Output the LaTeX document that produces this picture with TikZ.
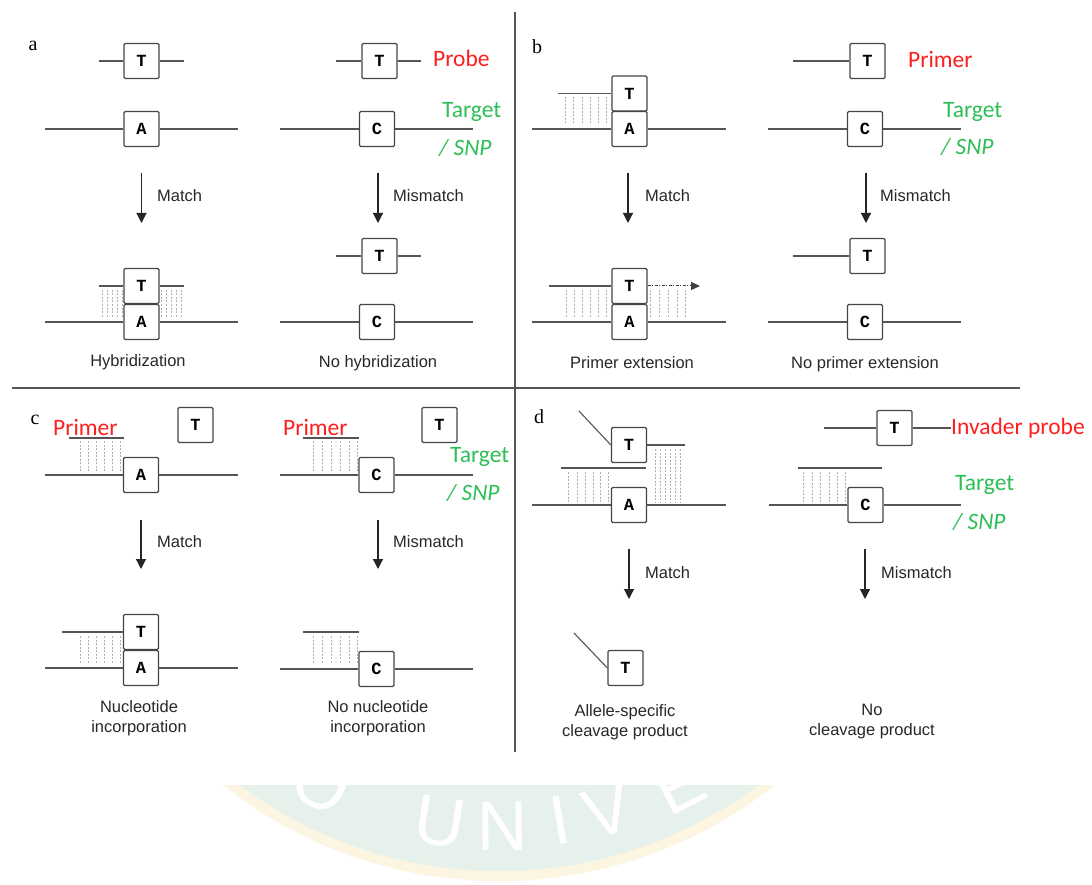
\documentclass[tikz,border=0pt]{standalone}
\usepackage{fontspec}
\usetikzlibrary{arrows.meta}
\newfontfamily\arialf{Liberation Sans}
\newfontfamily\calf{Carlito}
\newfontfamily\monof{Liberation Mono}
\newfontfamily\serf{Liberation Serif}
\definecolor{linec}{RGB}{85,85,85}
\definecolor{boxc}{RGB}{70,70,70}
\definecolor{hatchc}{RGB}{175,175,175}
\definecolor{lblred}{RGB}{255,30,30}
\definecolor{lblgreen}{RGB}{45,190,85}
\definecolor{wmgreen}{RGB}{230,241,235}
\definecolor{wmyellow}{RGB}{251,245,226}
\definecolor{txtc}{RGB}{40,40,40}
\tikzset{
  base/.style={draw=boxc, line width=1.3pt, rounded corners=1.2pt, minimum width=35pt, minimum height=35pt, inner sep=0pt, fill=white, font=\monof\bfseries\fontsize{17}{17}\selectfont, text=black},
  strand/.style={draw=linec, line width=1.5pt},
  hatch/.style={draw=hatchc, line width=0.8pt, dash pattern=on 2pt off 1.5pt},
  flow/.style={draw=black!85, line width=1.2pt, -{Triangle[width=10pt,length=10pt]}},
  dotflow/.style={draw=black!75, line width=1pt, dash pattern=on 3pt off 1.5pt on 1pt off 1.5pt, -{Triangle[width=8pt,length=9pt]}},
  lab/.style={font=\arialf\fontsize{16.5}{20}\selectfont, text=txtc, inner sep=0pt, align=center},
  redlab/.style={font=\calf\fontsize{23.5}{24}\selectfont, text=lblred, inner sep=0pt, anchor=west},
  greenlab/.style={font=\calf\fontsize{23.5}{24}\selectfont, text=lblgreen, inner sep=0pt, anchor=west},
  panel/.style={font=\serf\fontsize{20}{20}\selectfont, inner sep=0pt},
  divider/.style={draw=linec, line width=1.6pt},
  wmlet/.style={font=\arialf\fontsize{70}{70}\selectfont, text=white, inner sep=0pt},
}
\begin{document}
\begin{tikzpicture}[x=1pt,y=-1pt]
\useasboundingbox (0,0) rectangle (1092,885);
\fill[white] (0,0) rectangle (1092,885);
% ---------- watermark ----------
\begin{scope}
\clip (0,785) rectangle (1092,885);
\fill[wmyellow] (499,437) circle[radius=444pt];
\fill[wmgreen] (499,437) circle[radius=434pt];
\foreach \ch/\px/\py/\r in {O/322/784/-27, U/440/822/-8.7, N/503/826/0.6, I/560/820/9.8, V/608/811/15.5, E/679/785/27}
  \node[wmlet, rotate=\r, name=wm\ch] at (\px,\py) {\ch};
\end{scope}
% ---------- dividers ----------
\coordinate (hdL) at (12,388); \coordinate (hdR) at (1020,388);
\draw[divider] (hdL) -- (hdR);
\coordinate (vdT) at (515,12); \coordinate (vdB) at (515,752);
\draw[divider] (vdT) -- (vdB);

% ================= panel a =================
\node[panel] (pa) at (33,46) {a};
% left column
\foreach \x in {102,107,112,117,122,161,166,171,176,181} \draw[hatch] (\x,290) -- (\x,318);
\node[base] (a1t) at (141.5,61) {T};
\coordinate (a1pl) at (99,61); \coordinate (a1pr) at (184,61);
\draw[strand] (a1pl) -- (a1t.west); \draw[strand] (a1t.east) -- (a1pr);
\node[base] (a1a) at (141.5,129) {A};
\coordinate (a1gl) at (45,129); \coordinate (a1gr) at (238,129);
\draw[strand] (a1gl) -- (a1a.west); \draw[strand] (a1a.east) -- (a1gr);
\coordinate (a1s) at (141.5,173); \coordinate (a1e) at (141.5,223);
\draw[flow] (a1s) -- (a1e);
\node[lab, anchor=west] (a1m) at (157,196) {Match};
\node[base] (a1t2) at (141.5,286) {T};
\node[base] (a1a2) at (141.5,322) {A};
\coordinate (a1pl2) at (99,286); \coordinate (a1pr2) at (184,286);
\draw[strand] (a1pl2) -- (a1t2.west); \draw[strand] (a1t2.east) -- (a1pr2);
\coordinate (a1gl2) at (45,322); \coordinate (a1gr2) at (238,322);
\draw[strand] (a1gl2) -- (a1a2.west); \draw[strand] (a1a2.east) -- (a1gr2);
\node[lab] (a1r) at (138,362) {Hybridization};
% right column
\node[base] (a2t) at (379.5,61) {T};
\coordinate (a2pl) at (336,61); \coordinate (a2pr) at (421,61);
\draw[strand] (a2pl) -- (a2t.west); \draw[strand] (a2t.east) -- (a2pr);
\node[redlab] (a2probe) at (433,58) {Probe};
\node[base] (a2c) at (377,129) {C};
\coordinate (a2gl) at (280,129); \coordinate (a2gr) at (473,129);
\draw[strand] (a2gl) -- (a2c.west); \draw[strand] (a2c.east) -- (a2gr);
\node[greenlab] (a2tg) at (442,112) {Target};
\node[greenlab] (a2snp) at (439,148) {\itshape / SNP};
\coordinate (a2s) at (378,173); \coordinate (a2e) at (378,223);
\draw[flow] (a2s) -- (a2e);
\node[lab, anchor=west] (a2m) at (393,196) {Mismatch};
\node[base] (a2t2) at (379.5,256) {T};
\coordinate (a2pl2) at (336,256); \coordinate (a2pr2) at (421,256);
\draw[strand] (a2pl2) -- (a2t2.west); \draw[strand] (a2t2.east) -- (a2pr2);
\node[base] (a2c2) at (377,322) {C};
\coordinate (a2gl2) at (280,322); \coordinate (a2gr2) at (473,322);
\draw[strand] (a2gl2) -- (a2c2.west); \draw[strand] (a2c2.east) -- (a2gr2);
\node[lab] (a2r) at (378,363) {No hybridization};

% ================= panel b =================
\node[panel] (pb) at (537,47) {b};
\foreach \x in {565,573,582,590,598,606} \draw[hatch] (\x,97) -- (\x,125);
\node[base] (b1t) at (629.5,93.5) {T};
\node[base] (b1a) at (629.5,129) {A};
\coordinate (b1pl) at (558,93.5);
\draw[strand] (b1pl) -- (b1t.west);
\coordinate (b1gl) at (532,129); \coordinate (b1gr) at (726,129);
\draw[strand] (b1gl) -- (b1a.west); \draw[strand] (b1a.east) -- (b1gr);
\coordinate (b1s) at (628,173); \coordinate (b1e) at (628,223);
\draw[flow] (b1s) -- (b1e);
\node[lab, anchor=west] (b1m) at (645,196) {Match};
\foreach \x in {566,574,582,590,598,606,650,659,668,677,685} \draw[hatch] (\x,290) -- (\x,318);
\node[base] (b1t2) at (629.5,286) {T};
\node[base] (b1a2) at (629.5,322) {A};
\coordinate (b1pl2) at (549,286);
\draw[strand] (b1pl2) -- (b1t2.west);
\coordinate (b1x) at (700,286);
\draw[dotflow] (b1t2.east) -- (b1x);
\coordinate (b1gl2) at (532,322); \coordinate (b1gr2) at (726,322);
\draw[strand] (b1gl2) -- (b1a2.west); \draw[strand] (b1a2.east) -- (b1gr2);
\node[lab] (b1r) at (632,363) {Primer extension};
% right column
\node[base] (b2t) at (867.5,61) {T};
\coordinate (b2pl) at (793,61);
\draw[strand] (b2pl) -- (b2t.west);
\node[redlab] (b2primer) at (908,59) {Primer};
\node[base] (b2c) at (865,129) {C};
\coordinate (b2gl) at (768,129); \coordinate (b2gr) at (961,129);
\draw[strand] (b2gl) -- (b2c.west); \draw[strand] (b2c.east) -- (b2gr);
\node[greenlab] (b2tg) at (943,112) {Target};
\node[greenlab] (b2snp) at (941,147) {\itshape / SNP};
\coordinate (b2s) at (866,173); \coordinate (b2e) at (866,223);
\draw[flow] (b2s) -- (b2e);
\node[lab, anchor=west] (b2m) at (880,196) {Mismatch};
\node[base] (b2t2) at (867.5,256) {T};
\coordinate (b2pl2) at (793,256);
\draw[strand] (b2pl2) -- (b2t2.west);
\node[base] (b2c2) at (865,322) {C};
\coordinate (b2gl2) at (768,322); \coordinate (b2gr2) at (961,322);
\draw[strand] (b2gl2) -- (b2c2.west); \draw[strand] (b2c2.east) -- (b2gr2);
\node[lab] (b2r) at (865,364) {No primer extension};

% ================= panel c =================
\node[panel] (pc) at (35,420) {c};
\node[redlab] (c1primer) at (53,427) {Primer};
\foreach \x in {80,88,96,104,112,120} \draw[hatch] (\x,441) -- (\x,471);
\coordinate (c1pl) at (69,438); \coordinate (c1pr) at (124,438);
\draw[strand] (c1pl) -- (c1pr);
\node[base] (c1f) at (195.5,425) {T};
\node[base] (c1a) at (141,475) {A};
\coordinate (c1gl) at (45,475); \coordinate (c1gr) at (238,475);
\draw[strand] (c1gl) -- (c1a.west); \draw[strand] (c1a.east) -- (c1gr);
\coordinate (c1s) at (141,520); \coordinate (c1e) at (141,569);
\draw[flow] (c1s) -- (c1e);
\node[lab, anchor=west] (c1m) at (157,542) {Match};
\foreach \x in {80,88,96,104,112,120} \draw[hatch] (\x,636) -- (\x,664);
\node[base] (c1t2) at (141,632) {T};
\node[base] (c1a2) at (141,668) {A};
\coordinate (c1pl2) at (62,632);
\draw[strand] (c1pl2) -- (c1t2.west);
\coordinate (c1gl2) at (45,668); \coordinate (c1gr2) at (238,668);
\draw[strand] (c1gl2) -- (c1a2.west); \draw[strand] (c1a2.east) -- (c1gr2);
\node[lab] (c1r) at (139,718) {Nucleotide\\incorporation};
% right column
\node[redlab] (c2primer) at (283,427) {Primer};
\foreach \x in {313,322,331,340,349,357} \draw[hatch] (\x,441) -- (\x,471);
\coordinate (c2pl) at (303,438); \coordinate (c2pr) at (359,438);
\draw[strand] (c2pl) -- (c2pr);
\node[base] (c2f) at (439.5,425) {T};
\node[base] (c2c) at (376.5,475) {C};
\coordinate (c2gl) at (280,475); \coordinate (c2gr) at (473,475);
\draw[strand] (c2gl) -- (c2c.west); \draw[strand] (c2c.east) -- (c2gr);
\node[greenlab] (c2tg) at (450,457) {Target};
\node[greenlab] (c2snp) at (447,493) {\itshape / SNP};
\coordinate (c2s) at (378,520); \coordinate (c2e) at (378,569);
\draw[flow] (c2s) -- (c2e);
\node[lab, anchor=west] (c2m) at (393,542) {Mismatch};
\foreach \x in {313,322,331,340,349,357} \draw[hatch] (\x,636) -- (\x,664);
\coordinate (c2pl2) at (303,632); \coordinate (c2pr2) at (359,632);
\draw[strand] (c2pl2) -- (c2pr2);
\node[base] (c2c2) at (376.5,669) {C};
\coordinate (c2gl2) at (280,669); \coordinate (c2gr2) at (473,669);
\draw[strand] (c2gl2) -- (c2c2.west); \draw[strand] (c2c2.east) -- (c2gr2);
\node[lab] (c2r) at (378,718) {No nucleotide\\incorporation};

% ================= panel d =================
\node[panel] (pd) at (539,417) {d};
\foreach \x in {655,660,665,670,675,680} \draw[hatch] (\x,449) -- (\x,502);
\foreach \x in {568,577,585,593,600,608} \draw[hatch] (\x,472) -- (\x,502);
\node[base] (d1t) at (629,445) {T};
\coordinate (d1fl) at (579,411);
\draw[strand, line width=1.1pt] (d1fl) -- (d1t.west);
\coordinate (d1pr) at (685,445);
\draw[strand] (d1t.east) -- (d1pr);
\coordinate (d1ul) at (561,468); \coordinate (d1ur) at (646,468);
\draw[strand] (d1ul) -- (d1ur);
\node[base] (d1a) at (629,505) {A};
\coordinate (d1gl) at (532,505); \coordinate (d1gr) at (726,505);
\draw[strand] (d1gl) -- (d1a.west); \draw[strand] (d1a.east) -- (d1gr);
\coordinate (d1s) at (629,549); \coordinate (d1e) at (629,599);
\draw[flow] (d1s) -- (d1e);
\node[lab, anchor=west] (d1m) at (645,573) {Match};
\node[base] (d1t2) at (625.5,668) {T};
\coordinate (d1fl2) at (574,633);
\draw[strand, line width=1.1pt] (d1fl2) -- (d1t2.west);
\node[lab] (d1r) at (625,722) {Allele-specific\\cleavage product};
% right column
\node[base] (d2t) at (894.5,428) {T};
\coordinate (d2pl) at (824,428);
\draw[strand] (d2pl) -- (d2t.west);
\node[redlab] (d2inv) at (951,428) {Invader probe};
\draw[strand] (d2t.east) -- (d2inv.west);
\foreach \x in {803,812,820,829,837,845} \draw[hatch] (\x,472) -- (\x,502);
\coordinate (d2ul) at (798,468); \coordinate (d2ur) at (882,468);
\draw[strand] (d2ul) -- (d2ur);
\node[base] (d2c) at (865.5,505) {C};
\coordinate (d2gl) at (769,505); \coordinate (d2gr) at (961,505);
\draw[strand] (d2gl) -- (d2c.west); \draw[strand] (d2c.east) -- (d2gr);
\node[greenlab] (d2tg) at (955,485) {Target};
\node[greenlab] (d2snp) at (953,522) {\itshape / SNP};
\coordinate (d2s) at (865,549); \coordinate (d2e) at (865,599);
\draw[flow] (d2s) -- (d2e);
\node[lab, anchor=west] (d2m) at (881,573) {Mismatch};
\node[lab] (d2r) at (872,722) {No\\cleavage product};
\end{tikzpicture}
\end{document}
